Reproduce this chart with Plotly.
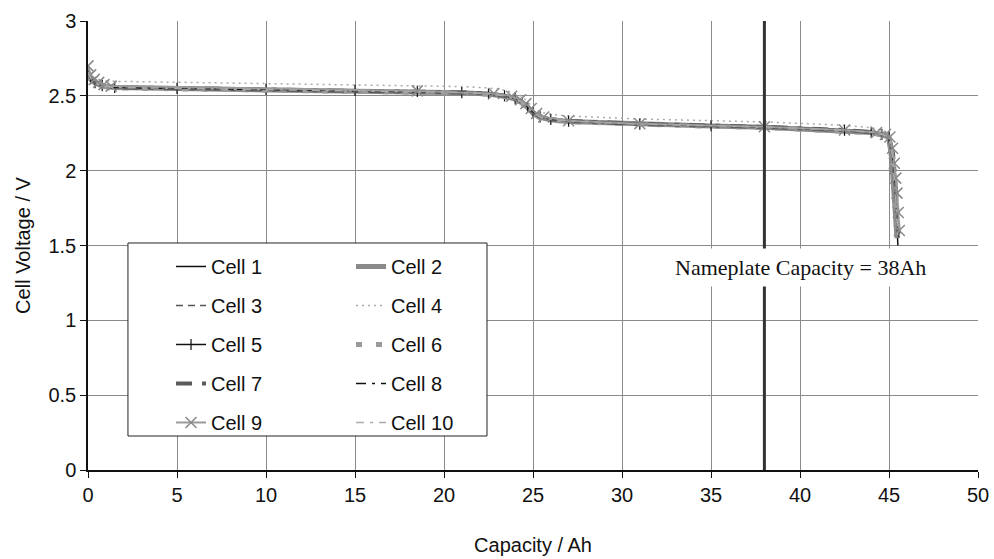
import plotly.graph_objects as go

# ---------------- data ----------------
capacity = [0.0, 0.15, 0.4, 0.8, 1.5, 5.0, 10.0, 15.0, 18.5, 21.0, 22.5, 23.4, 24.0, 24.4,
            24.7, 25.0, 25.4, 26.0, 27.0, 31.0, 35.0, 38.0, 42.5, 44.0, 44.6, 45.0]

tail_cell1 = [45.2, 45.3, 45.4, 45.5]
tail_cell2 = [45.15, 45.25, 45.35, 45.45]
tail_cell3 = [45.25, 45.38, 45.48, 45.56]
tail_cell4 = [45.3, 45.42, 45.52, 45.6]
tail_cell5 = [45.22, 45.34, 45.45, 45.52]
tail_cell6 = [45.18, 45.3, 45.42, 45.5]
tail_cell7 = [45.24, 45.36, 45.46, 45.54]
tail_cell8 = [45.26, 45.38, 45.48, 45.55]
tail_cell10 = [45.2, 45.32, 45.43, 45.5]

volt_cell1 = [2.66, 2.62, 2.59, 2.57, 2.558, 2.552, 2.545, 2.538, 2.532, 2.524, 2.516, 2.502, 2.484, 2.460,
              2.430, 2.392, 2.362, 2.345, 2.333, 2.313, 2.302, 2.293, 2.272, 2.258, 2.245, 2.228,
              2.10, 1.95, 1.75, 1.50]
volt_cell2 = [2.65, 2.61, 2.585, 2.565, 2.555, 2.549, 2.542, 2.535, 2.529, 2.521, 2.512, 2.497, 2.478, 2.452,
              2.421, 2.384, 2.356, 2.340, 2.329, 2.310, 2.299, 2.290, 2.269, 2.255, 2.241, 2.222,
              2.08, 1.92, 1.72, 1.55]
volt_cell3 = [2.67, 2.63, 2.595, 2.572, 2.560, 2.554, 2.547, 2.540, 2.534, 2.526, 2.518, 2.505, 2.488, 2.465,
              2.436, 2.398, 2.366, 2.348, 2.336, 2.316, 2.305, 2.296, 2.275, 2.261, 2.248, 2.232,
              2.12, 1.96, 1.78, 1.55]
volt_cell4 = [2.69, 2.66, 2.63, 2.605, 2.597, 2.591, 2.584, 2.577, 2.571, 2.562, 2.553, 2.538, 2.518, 2.492,
              2.460, 2.420, 2.392, 2.376, 2.365, 2.345, 2.334, 2.325, 2.303, 2.287, 2.272, 2.252,
              2.13, 1.97, 1.78, 1.60]
volt_cell5 = [2.655, 2.615, 2.588, 2.568, 2.556, 2.550, 2.543, 2.536, 2.530, 2.522, 2.514, 2.500, 2.481, 2.456,
              2.426, 2.388, 2.359, 2.343, 2.331, 2.311, 2.300, 2.291, 2.270, 2.256, 2.243, 2.224,
              2.09, 1.93, 1.76, 1.60]
volt_cell6 = [2.645, 2.605, 2.582, 2.563, 2.553, 2.547, 2.540, 2.533, 2.527, 2.519, 2.510, 2.495, 2.475, 2.449,
              2.418, 2.381, 2.353, 2.338, 2.327, 2.308, 2.297, 2.288, 2.267, 2.253, 2.239, 2.218,
              2.08, 1.90, 1.72, 1.58]
volt_cell7 = [2.66, 2.625, 2.592, 2.569, 2.557, 2.551, 2.544, 2.537, 2.531, 2.523, 2.515, 2.501, 2.482, 2.458,
              2.428, 2.390, 2.360, 2.344, 2.332, 2.312, 2.301, 2.292, 2.271, 2.257, 2.244, 2.226,
              2.10, 1.94, 1.76, 1.58]
volt_cell8 = [2.665, 2.628, 2.594, 2.571, 2.559, 2.553, 2.546, 2.539, 2.533, 2.525, 2.517, 2.503, 2.486, 2.462,
              2.433, 2.395, 2.364, 2.347, 2.334, 2.314, 2.303, 2.294, 2.273, 2.259, 2.246, 2.230,
              2.11, 1.95, 1.77, 1.60]
volt_cell10 = [2.655, 2.618, 2.587, 2.566, 2.556, 2.550, 2.543, 2.536, 2.530, 2.522, 2.513, 2.499, 2.480, 2.455,
               2.424, 2.387, 2.358, 2.342, 2.330, 2.311, 2.300, 2.291, 2.270, 2.256, 2.242, 2.223,
               2.09, 1.93, 1.74, 1.56]

capacity_cell9 = [0.0, 0.15, 0.35, 0.6, 0.9, 1.3, 18.5, 22.8, 23.8, 24.3, 24.6, 24.9, 25.2, 25.6,
                  27.0, 31.0, 38.0, 42.5, 44.3, 44.8, 45.05, 45.2, 45.3, 45.38, 45.45, 45.52, 45.58]
volt_cell9 = [2.70, 2.64, 2.61, 2.59, 2.575, 2.565, 2.533, 2.515, 2.497, 2.474, 2.448, 2.415, 2.382, 2.358,
              2.334, 2.313, 2.294, 2.272, 2.255, 2.242, 2.225, 2.15, 2.05, 1.95, 1.85, 1.72, 1.60]

cell_names = ["Cell 1", "Cell 2", "Cell 3", "Cell 4", "Cell 5",
              "Cell 6", "Cell 7", "Cell 8", "Cell 9", "Cell 10"]
nameplate_capacity = 38
nameplate_label = "Nameplate Capacity = 38Ah"
x_ticks = [0, 5, 10, 15, 20, 25, 30, 35, 40, 45, 50]
y_ticks = [0, 0.5, 1, 1.5, 2, 2.5, 3]

# ---------------- figure ----------------
series = {
    "Cell 1": (capacity + tail_cell1, volt_cell1),
    "Cell 2": (capacity + tail_cell2, volt_cell2),
    "Cell 3": (capacity + tail_cell3, volt_cell3),
    "Cell 4": (capacity + tail_cell4, volt_cell4),
    "Cell 5": (capacity + tail_cell5, volt_cell5),
    "Cell 6": (capacity + tail_cell6, volt_cell6),
    "Cell 7": (capacity + tail_cell7, volt_cell7),
    "Cell 8": (capacity + tail_cell8, volt_cell8),
    "Cell 9": (capacity_cell9, volt_cell9),
    "Cell 10": (capacity + tail_cell10, volt_cell10),
}

styles = {
    "Cell 1": dict(line=dict(color="#111111", width=1.5)),
    "Cell 2": dict(line=dict(color="#8a8a8a", width=5)),
    "Cell 3": dict(line=dict(color="#555555", width=1.5, dash="7px,5px")),
    "Cell 4": dict(line=dict(color="#aaaaaa", width=1.5, dash="2px,4px")),
    "Cell 5": dict(line=dict(color="#111111", width=1.5), mode="lines+markers",
                   marker=dict(symbol="line-ns", size=8, line=dict(color="#111111", width=1.2))),
    "Cell 6": dict(line=dict(color="#9a9a9a", width=5, dash="6px,14px")),
    "Cell 7": dict(line=dict(color="#5a5a5a", width=4, dash="16px,10px,5px,10px")),
    "Cell 8": dict(line=dict(color="#111111", width=1.5, dash="10px,6px,3px,6px")),
    "Cell 9": dict(line=dict(color="#9a9a9a", width=2), mode="lines+markers",
                   marker=dict(symbol="x-thin", size=11, line=dict(color="#8a8a8a", width=1.5))),
    "Cell 10": dict(line=dict(color="#aaaaaa", width=1.5, dash="8px,6px,3px,6px")),
}

fig = go.Figure()
for i, name in enumerate(cell_names):
    xs, ys = series[name]
    st = dict(styles[name])
    mode = st.pop("mode", "lines")
    fig.add_trace(go.Scatter(
        x=xs, y=ys, name=name, mode=mode,
        legend="legend" if i % 2 == 0 else "legend2",
        legendgroup=name,
        **st))

# nameplate line
fig.add_shape(type="line", xref="x", yref="y", x0=nameplate_capacity, x1=nameplate_capacity,
              y0=0, y1=3, line=dict(color="#333333", width=3), layer="above")

# legend outer box
fig.add_shape(type="rect", xref="paper", yref="paper", x0=0.0449, x1=0.4483, y0=0.0757, y1=0.5056,
              line=dict(color="#222222", width=1), fillcolor="white", layer="above")

fig.add_annotation(x=40.0, y=1.354, xref="x", yref="y", text=nameplate_label, showarrow=False,
                   bgcolor="white", borderpad=6,
                   font=dict(family="Liberation Serif, Times New Roman, serif", size=22, color="#111111"))

axis_font = dict(family="Liberation Sans, Arial, sans-serif", size=20, color="#111111")
legend_common = dict(orientation="v", bgcolor="rgba(0,0,0,0)", borderwidth=0, tracegroupgap=10,
                     font=axis_font, xanchor="left", yanchor="top")

fig.update_layout(
    width=994, height=559,
    margin=dict(l=88, r=16, t=21, b=89),
    paper_bgcolor="white", plot_bgcolor="white",
    font=axis_font,
    showlegend=True,
    legend=dict(x=0.0933, y=0.4967, **legend_common),
    legend2=dict(x=0.2955, y=0.4967, **legend_common),
    xaxis=dict(range=[0, 50], tickvals=x_ticks, ticktext=[str(v) for v in x_ticks],
               showgrid=True, gridcolor="#8a8a8a", gridwidth=1, zeroline=False,
               showline=True, linecolor="#111111", linewidth=1.5, automargin=False,
               ticks="outside", ticklen=6, tickcolor="#111111",
               title=dict(text="Capacity / Ah", standoff=33, font=axis_font)),
    yaxis=dict(range=[0, 3], tickvals=y_ticks, ticktext=[str(v) for v in y_ticks],
               showgrid=True, gridcolor="#8a8a8a", gridwidth=1, zeroline=False,
               showline=True, linecolor="#111111", linewidth=1.5, automargin=False,
               ticks="outside", ticklen=6, tickcolor="#111111",
               title=dict(text="Cell Voltage / V", standoff=12, font=axis_font)),
)

fig.write_html("out.html")
